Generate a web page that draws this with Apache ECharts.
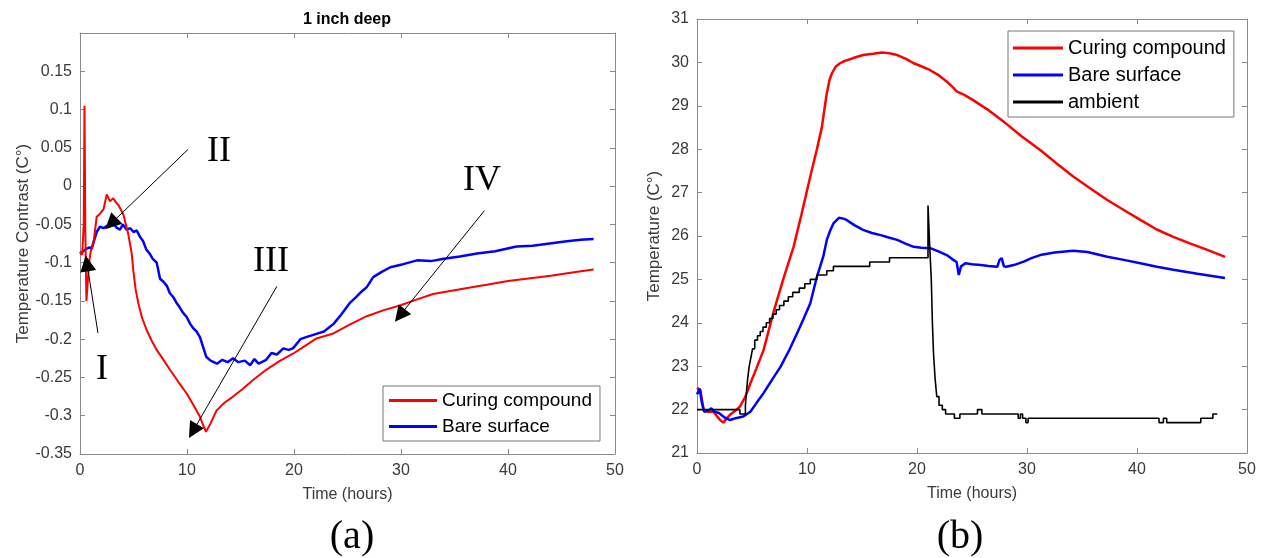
<!DOCTYPE html>
<html><head><meta charset="utf-8">
<script src="https://cdn.jsdelivr.net/npm/echarts@6/dist/echarts.min.js"></script>
<style>html,body{margin:0;padding:0;background:#fff}#c{width:1265px;height:558px}</style>
</head><body><div id="c"></div>
<script>
// ---- Panel (a): temperature contrast, 1 inch deep ----
const contrastCuring = [[0,-0.086],[0.2,-0.09],[0.35,-0.05],[0.42,0.105],[0.5,-0.06],[0.6,-0.15],[0.75,-0.15],[0.85,-0.1],[1.0,-0.085],[1.3,-0.07],[1.56,-0.04],[1.87,-0.036],[2.2,-0.03],[2.5,-0.011],[2.8,-0.02],[3.1,-0.016],[3.4,-0.022],[3.6,-0.025],[4.05,-0.037],[4.5,-0.062],[4.83,-0.088],[4.98,-0.11],[5.2,-0.135],[5.45,-0.153],[5.8,-0.172],[6.23,-0.188],[6.7,-0.202],[7.17,-0.214],[7.8,-0.227],[8.41,-0.24],[9.2,-0.256],[9.97,-0.271],[10.6,-0.286],[11.2,-0.301],[11.5,-0.312],[11.78,-0.321],[12.2,-0.31],[12.77,-0.293],[13.5,-0.283],[14.3,-0.275],[15.2,-0.265],[16.2,-0.253],[17.4,-0.24],[18.6,-0.229],[19.9,-0.219],[21.0,-0.209],[22.1,-0.199],[23.6,-0.193],[25.2,-0.181],[26.8,-0.17],[28.4,-0.162],[29.9,-0.156],[31.5,-0.148],[33,-0.141],[34.6,-0.137],[36.2,-0.133],[38,-0.129],[40,-0.124],[42.3,-0.12],[44,-0.117],[46,-0.113],[48,-0.109]];
const contrastBare = [[0,-0.088],[0.3,-0.085],[0.6,-0.082],[0.9,-0.08],[1.1,-0.082],[1.3,-0.072],[1.56,-0.06],[1.87,-0.053],[2.2,-0.055],[2.5,-0.052],[2.8,-0.05],[3.1,-0.048],[3.4,-0.054],[3.74,-0.057],[4.0,-0.05],[4.36,-0.057],[4.7,-0.055],[5.0,-0.06],[5.3,-0.058],[5.6,-0.066],[5.9,-0.072],[6.2,-0.083],[6.5,-0.088],[6.8,-0.095],[7.17,-0.1],[7.48,-0.121],[7.8,-0.125],[8.1,-0.13],[8.4,-0.14],[8.72,-0.145],[9.0,-0.152],[9.3,-0.158],[9.6,-0.165],[9.97,-0.171],[10.3,-0.18],[10.6,-0.186],[10.9,-0.19],[11.2,-0.197],[11.5,-0.21],[11.8,-0.223],[12.2,-0.228],[12.8,-0.232],[13.3,-0.227],[13.8,-0.23],[14.3,-0.225],[14.8,-0.23],[15.4,-0.228],[15.9,-0.234],[16.3,-0.226],[16.7,-0.232],[17.4,-0.227],[17.9,-0.218],[18.4,-0.22],[19.0,-0.212],[19.5,-0.214],[19.9,-0.212],[20.6,-0.2],[21.2,-0.197],[22.1,-0.193],[22.8,-0.19],[23.7,-0.18],[24.4,-0.168],[25.2,-0.153],[25.8,-0.145],[26.3,-0.138],[26.8,-0.132],[27.4,-0.119],[28.2,-0.112],[29,-0.106],[30.2,-0.102],[31.5,-0.097],[32.8,-0.098],[34,-0.095],[35.5,-0.092],[37.1,-0.088],[38.8,-0.085],[40.8,-0.079],[42.3,-0.078],[43.9,-0.075],[45.5,-0.072],[46.8,-0.07],[48,-0.069]];
// annotation arrows [from, to] and labels (data coordinates)
const arrows = [[[1.68,-0.192],[0.65,-0.101]],[[10.1,0.048],[2.9,-0.049]],[[18.4,-0.131],[10.56,-0.32]],[[37.8,-0.032],[29.9,-0.169]]];
const phaseLabels = [['I',2.06,-0.240],['II',12.99,0.045],['III',17.85,-0.098],['IV',37.57,0.0075]];

// ---- Panel (b): temperature ----
const tempCuring = [[0,22.5],[0.3,22.45],[0.6,22.0],[1.0,21.95],[1.5,21.95],[1.8,21.85],[2.1,21.76],[2.4,21.7],[2.7,21.8],[3.0,21.88],[3.5,21.98],[3.9,22.07],[4.4,22.3],[4.85,22.6],[5.4,22.95],[6.05,23.37],[6.96,24.25],[7.9,25.05],[8.78,25.75],[9.5,26.5],[10.3,27.37],[10.9,28.0],[11.36,28.52],[11.6,28.95],[11.8,29.29],[12.05,29.6],[12.27,29.75],[12.6,29.9],[13.0,29.98],[13.3,30.02],[14.2,30.1],[15.1,30.17],[16.0,30.2],[16.8,30.23],[17.5,30.21],[18.2,30.17],[19.0,30.08],[19.7,29.98],[20.5,29.9],[21.2,29.82],[22.0,29.7],[22.7,29.56],[23.3,29.42],[23.6,29.33],[24.3,29.25],[25.1,29.13],[26.5,28.9],[27.9,28.63],[29.5,28.3],[31.2,27.98],[32.7,27.67],[34.2,27.37],[35.8,27.09],[37.3,26.83],[38.8,26.6],[40.3,26.37],[41.8,26.15],[43.3,25.98],[44.8,25.83],[46.4,25.68],[48,25.52]];
const tempBare = [[0,22.35],[0.25,22.48],[0.45,22.15],[0.65,21.95],[1.0,21.97],[1.3,22.03],[1.6,21.95],[2.0,21.92],[2.5,21.82],[3.0,21.76],[3.5,21.8],[4.2,21.84],[4.85,21.95],[5.4,22.15],[6.05,22.38],[6.8,22.68],[7.6,22.99],[8.4,23.38],[9.1,23.76],[9.7,24.1],[10.3,24.45],[10.9,25.06],[11.2,25.3],[11.5,25.55],[11.8,25.91],[12.1,26.12],[12.4,26.29],[12.9,26.42],[13.3,26.4],[13.6,26.37],[14.3,26.25],[15.1,26.14],[15.9,26.07],[16.7,26.02],[17.5,25.96],[18.2,25.91],[19.0,25.82],[19.7,25.75],[20.4,25.73],[21.2,25.72],[22.0,25.64],[22.7,25.56],[23.3,25.45],[23.6,25.4],[23.8,25.1],[24.0,25.3],[24.4,25.37],[25.0,25.35],[25.8,25.33],[26.5,25.31],[27.3,25.29],[27.5,25.45],[27.7,25.49],[27.9,25.3],[28.1,25.29],[28.8,25.33],[29.7,25.41],[30.4,25.49],[31.2,25.56],[32.5,25.62],[34.2,25.66],[35.5,25.63],[37.3,25.52],[38.8,25.45],[40.3,25.37],[41.8,25.29],[43.3,25.22],[45.5,25.13],[48,25.03]];
const tempAmbient = [[0,22.0],[3.9,21.9],[4.4,22.1],[4.5,22.4],[4.6,22.7],[4.75,23.0],[4.9,23.2],[5.05,23.4],[5.25,23.6],[5.5,23.7],[5.75,23.8],[6.0,23.9],[6.3,24.0],[6.6,24.1],[6.9,24.2],[7.2,24.3],[7.5,24.4],[7.9,24.5],[8.3,24.6],[8.7,24.7],[9.3,24.8],[9.8,24.9],[10.3,25.0],[10.9,25.1],[11.8,25.2],[12.4,25.3],[15.7,25.4],[17.5,25.5],[21.0,26.7],[21.15,25.8],[21.3,25.0],[21.4,24.0],[21.5,23.3],[21.65,22.7],[21.8,22.3],[22.0,22.1],[22.3,22.0],[22.6,21.9],[23.4,21.8],[23.9,21.9],[25.5,22.0],[25.9,21.9],[29.2,21.8],[29.4,21.9],[29.6,21.8],[29.9,21.7],[30.1,21.8],[42.0,21.7],[42.4,21.8],[42.7,21.7],[45.8,21.8],[46.9,21.9],[47.3,21.9]];

const xTicks = {min:0, max:50, interval:10};
const yTicksA = {min:-0.35, max:0.2, interval:0.05};
const yTicksB = {min:21, max:31, interval:1};

const SANS = 'Liberation Sans, Arial, sans-serif';
const SERIF = 'Liberation Serif, Times New Roman, serif';
const AX = '#8a8a8a', LBL = '#3a3a3a';

function xAx(grid, pos, r, named) {
  return {type:'value', gridIndex:grid, position:pos, min:r.min, max:r.max, interval:r.interval,
    axisLine:{show:true, onZero:false, lineStyle:{color:AX, width:1}},
    axisTick:{show:true, inside:true, length:5, lineStyle:{color:AX}},
    axisLabel:{show:pos==='bottom', color:LBL, fontSize:16, fontFamily:SANS, margin:9},
    splitLine:{show:false},
    name: named ? 'Time (hours)' : '', nameLocation:'middle', nameGap:33,
    nameTextStyle:{color:LBL, fontSize:16, fontFamily:SANS}};
}
function yAx(grid, pos, r, name, gap, fmt) {
  return {type:'value', gridIndex:grid, position:pos, min:r.min, max:r.max, interval:r.interval,
    axisLine:{show:true, onZero:false, lineStyle:{color:AX, width:1}},
    axisTick:{show:true, inside:true, length:5, lineStyle:{color:AX}},
    axisLabel:{show:pos==='left', color:LBL, fontSize:16, fontFamily:SANS, margin:8, formatter:fmt},
    splitLine:{show:false},
    name: name, nameLocation:'middle', nameGap:gap, nameRotate:90,
    nameTextStyle:{color:LBL, fontSize:17, fontFamily:SANS}};
}
const fmtA = v => Math.abs(v-0.2) < 1e-9 ? '' : String(+v.toFixed(2));
const fmtB = v => String(Math.round(v));

const RED = '#ff0000', BLUE = '#0000ff', BLACK = '#000000';

const option = {
  backgroundColor:'#fff',
  animation:false,
  grid:[
    {left:80, top:33, width:535, height:421},
    {left:697, top:19, width:550, height:434}
  ],
  xAxis:[xAx(0,'bottom',xTicks,true), xAx(0,'top',xTicks,false), xAx(1,'bottom',xTicks,true), xAx(1,'top',xTicks,false)],
  yAxis:[yAx(0,'left',yTicksA,'Temperature Contrast (C°)',48,fmtA), yAx(0,'right',yTicksA,'',0,fmtA),
         yAx(1,'left',yTicksB,'Temperature (C°)',34,fmtB), yAx(1,'right',yTicksB,'',0,fmtB)],
  legend:[
    {data:['Curing compound','Bare surface'], orient:'vertical', left:383, top:386,
     backgroundColor:'#fff', borderColor:'#777', borderWidth:1, borderRadius:0, padding:[5,8,5,6],
     icon:'rect', itemWidth:48, itemHeight:3, itemGap:7, selectedMode:false,
     textStyle:{fontSize:19, fontFamily:SANS, color:'#000'}},
    {data:['Curing compound','Bare surface','ambient'], orient:'vertical', left:1008, top:31,
     backgroundColor:'#fff', borderColor:'#777', borderWidth:1, borderRadius:0, padding:[7,8,5,5],
     icon:'rect', itemWidth:50, itemHeight:3, itemGap:7, selectedMode:false,
     textStyle:{fontSize:20, fontFamily:SANS, color:'#000'}}
  ],
  graphic:[
    {type:'text', x:347, y:20, style:{text:'1 inch deep', font:'bold 16px '+SANS, fill:'#000', textAlign:'center', textVerticalAlign:'middle'}},
    {type:'text', x:352, y:537, style:{text:'(a)', font:'40px '+SERIF, fill:'#000', textAlign:'center', textVerticalAlign:'middle'}},
    {type:'text', x:960, y:537, style:{text:'(b)', font:'40px '+SERIF, fill:'#000', textAlign:'center', textVerticalAlign:'middle'}}
  ],
  series:[
    {name:'Curing compound', type:'line', xAxisIndex:0, yAxisIndex:0, data:contrastCuring, showSymbol:false, symbol:'none',
     color:RED, lineStyle:{color:RED, width:2}, z:3,
     markLine:{silent:true, symbol:['none','triangle'], symbolSize:16, animation:false,
       lineStyle:{color:'#000', width:1, type:'solid'}, itemStyle:{color:'#000'}, label:{show:false},
       emphasis:{disabled:true},
       data: arrows.map(a => [{coord:a[0]},{coord:a[1]}])}},
    {name:'Bare surface', type:'line', xAxisIndex:0, yAxisIndex:0, data:contrastBare, showSymbol:false, symbol:'none',
     color:BLUE, lineStyle:{color:BLUE, width:2.5}, z:2},
    {name:'phases', type:'scatter', xAxisIndex:0, yAxisIndex:0, silent:true, symbolSize:2,
     itemStyle:{color:'rgba(255,255,255,0)'},
     label:{show:true, position:'inside', formatter:p=>p.value[2], color:'#000', fontSize:36, fontFamily:SERIF,
            textBorderWidth:0, textBorderColor:'transparent', opacity:1},
     data: phaseLabels.map(l => [l[1], l[2], l[0]]), z:5},
    {name:'Curing compound', type:'line', xAxisIndex:2, yAxisIndex:2, data:tempCuring, showSymbol:false, symbol:'none',
     color:RED, lineStyle:{color:RED, width:2.5}, z:3},
    {name:'Bare surface', type:'line', xAxisIndex:2, yAxisIndex:2, data:tempBare, showSymbol:false, symbol:'none',
     color:BLUE, lineStyle:{color:BLUE, width:2.5}, z:3},
    {name:'ambient', type:'line', step:'end', xAxisIndex:2, yAxisIndex:2, data:tempAmbient, showSymbol:false, symbol:'none',
     color:BLACK, lineStyle:{color:BLACK, width:1.6}, z:4}
  ]
};
const chart = echarts.init(document.getElementById('c'), null, {renderer:'canvas'});
chart.setOption(option);
</script></body></html>
